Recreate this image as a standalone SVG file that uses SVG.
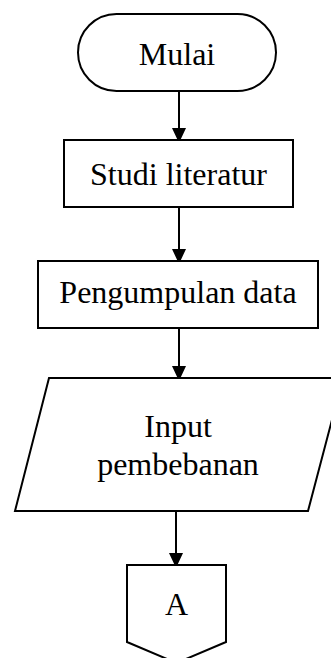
<svg xmlns="http://www.w3.org/2000/svg" width="331" height="658" viewBox="0 0 331 658">
<style>
.s{fill:#fff;stroke:#000;stroke-width:2}
.t{font-family:"Liberation Serif","Times New Roman",serif;font-size:32px;fill:#000;text-anchor:middle}
.c{stroke:#000;stroke-width:2;fill:none;marker-end:url(#ah)}
</style>
<defs>
<marker id="ah" viewBox="0 0 15 14" refX="15" refY="7" markerWidth="15" markerHeight="14" markerUnits="userSpaceOnUse" orient="auto">
<path d="M0,0 L15,7 L0,14 Z" fill="#000"/>
</marker>
</defs>
<g id="connectors">
<line class="c" x1="179" y1="91" x2="179" y2="143"/>
<line class="c" x1="179" y1="207" x2="179" y2="264"/>
<line class="c" x1="179" y1="328" x2="179" y2="381"/>
<line class="c" x1="176" y1="511" x2="176" y2="568"/>
</g>
<g id="mulai">
<rect class="s" x="78" y="14" width="198" height="77" rx="38.5"/>
<text class="t" x="177" y="65">Mulai</text>
</g>
<g id="studi">
<rect class="s" x="64" y="140" width="229" height="67"/>
<text class="t" x="178.5" y="185">Studi literatur</text>
</g>
<g id="pengumpulan">
<rect class="s" x="38" y="261" width="280" height="67"/>
<text class="t" x="178" y="303">Pengumpulan data</text>
</g>
<g id="input">
<polygon class="s" points="49,378 343,378 308,511 15,511"/>
<text class="t" x="178" y="437">Input</text>
<text class="t" x="178" y="475">pembebanan</text>
</g>
<g id="offpage">
<polygon class="s" points="127,565 226,565 226,642 176.5,663 127,642"/>
<text class="t" x="176.5" y="615">A</text>
</g>
</svg>
